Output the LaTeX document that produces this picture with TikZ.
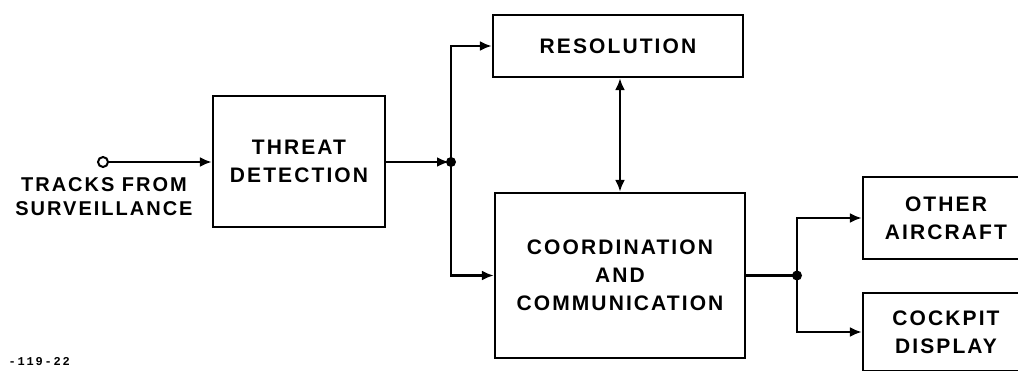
\documentclass[tikz,border=0pt]{standalone}
\usepackage{fontspec}
\usetikzlibrary{arrows.meta,positioning}
\newfontfamily\blockfont[LetterSpace=10]{Liberation Sans}
\newfontfamily\tagfont[LetterSpace=15]{Liberation Mono}

\begin{document}
\begin{tikzpicture}[
  x=1pt, y=-1pt,
  blockbox/.style={
    draw=black,
    line width=2.2pt,
    align=center,
    inner sep=0pt,
    font=\blockfont\bfseries\fontsize{21}{28}\selectfont
  },
  flowline/.style={
    line width=2.6pt,
    draw=black
  },
  flowarrow/.style={
    flowline,
    -{Latex[length=12pt,width=10pt]}
  },
  bothways/.style={
    flowline,
    {Latex[length=12pt,width=10pt]}-{Latex[length=12pt,width=10pt]}
  }
  ]

  \useasboundingbox (0,0) rectangle (1018,370);
  \clip (0,0) rectangle (1018,370);

  % blocks
  \node[blockbox, minimum width=172pt, minimum height=131pt] (threat) at (299,161.5) {THREAT\\DETECTION};
  \node[blockbox, minimum width=250pt, minimum height=62pt] (resolution) at (618,46) {RESOLUTION};
  \node[blockbox, minimum width=250pt, minimum height=165pt] (coord) at (620,275.5) {COORDINATION\\AND\\COMMUNICATION};
  \node[blockbox, minimum width=166pt, minimum height=82pt] (other) at (946,218) {OTHER\\AIRCRAFT};
  \node[blockbox, minimum width=166pt, minimum height=78pt] (cockpit) at (946,332) {COCKPIT\\DISPLAY};

  % input terminal
  \node[draw, circle, line width=2pt, fill=white, minimum size=10pt, inner sep=0pt] (src) at (103,162) {};
  \node[align=center, inner sep=0pt, font=\blockfont\bfseries\fontsize{20}{24}\selectfont] (srclabel) at (104,197) {TRACKS FROM\\SURVEILLANCE};

  % figure number
  \node[anchor=east, inner sep=0pt, font=\tagfont\bfseries\fontsize{12}{14}\selectfont] (figno) at (70,362) {-119-22};

  % branch points
  \coordinate (fork1) at (451,162);
  \coordinate (fork2) at (797,275.5);

  % connectors
  \draw[flowarrow] (src) -- (src -| threat.west);
  \draw[flowarrow, shorten >=2pt] (threat.east |- fork1) -- (fork1);
  \draw[flowarrow] (fork1) |- (resolution.west);
  \draw[flowarrow] (fork1) |- (coord.west);
  \draw[bothways] (coord.north) -- (coord.north |- resolution.south);
  \draw[flowline] (coord.east) -- (fork2);
  \draw[flowarrow] (fork2) |- (other.west);
  \draw[flowarrow] (fork2) |- (cockpit.west);
  \fill (fork1) circle (5pt);
  \fill (fork2) circle (5pt);

\end{tikzpicture}
\end{document}
